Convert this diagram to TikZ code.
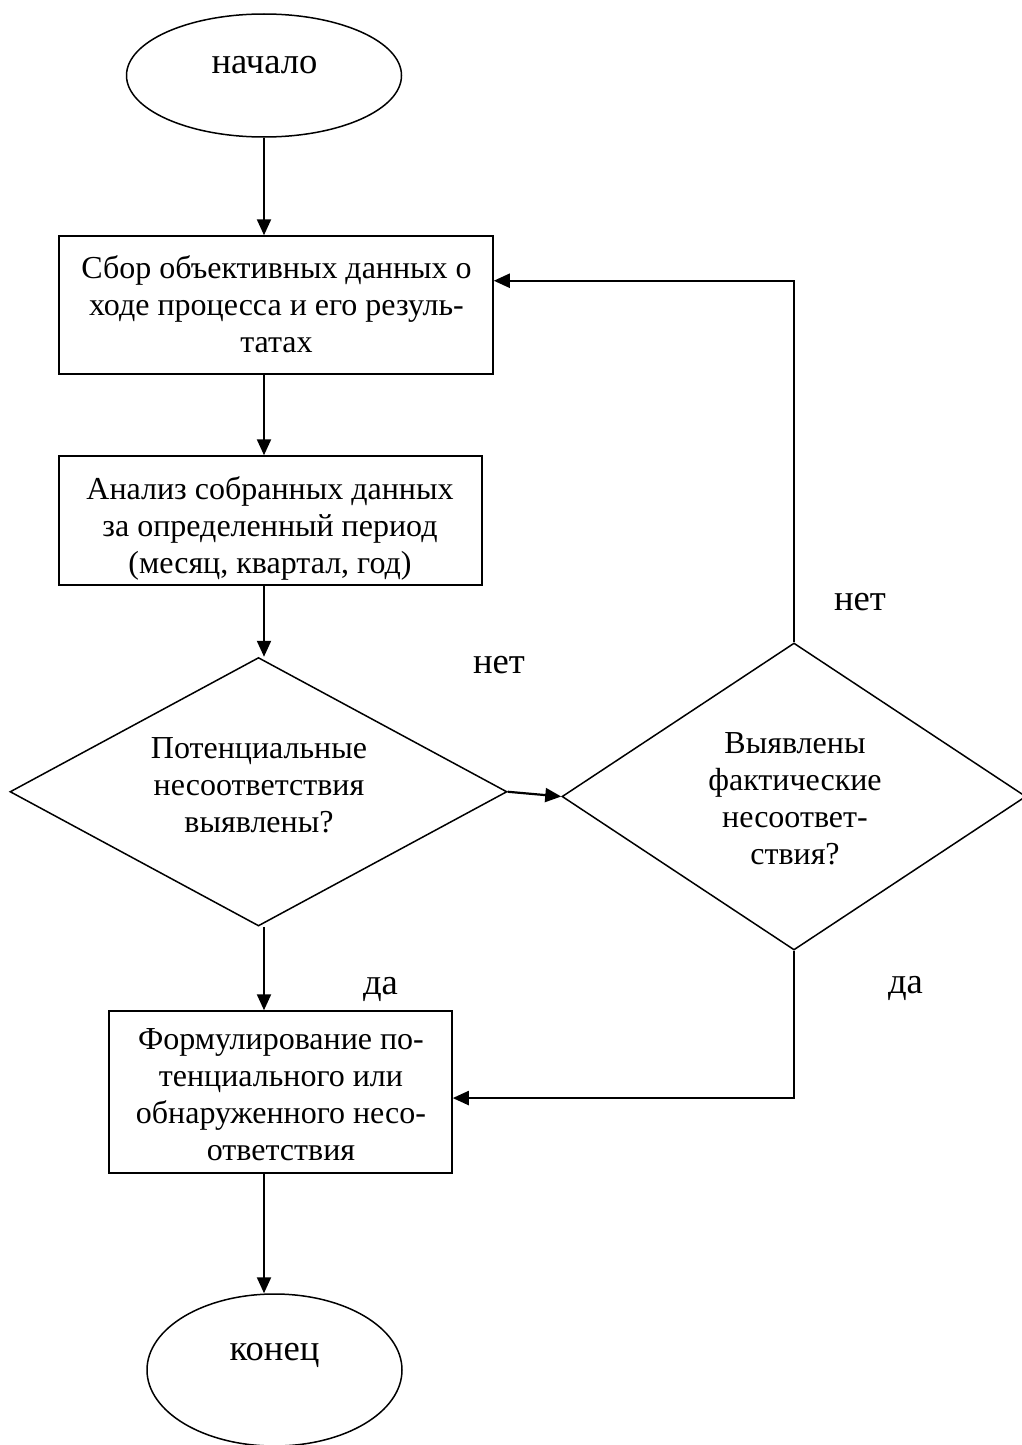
\documentclass[tikz,border=0pt]{standalone}
\usepackage{fontspec}
\setmainfont{Liberation Serif}
\usetikzlibrary{shapes.geometric,arrows.meta,calc}
\begin{document}
\begin{tikzpicture}[x=1pt,y=-1pt,
  font=\fontsize{32}{37}\selectfont,
  shp/.style={draw, line width=1.5pt, inner sep=0pt},
  boxs/.style={shp, rectangle},
  ell/.style={shp, ellipse},
  dia/.style={shp, diamond},
  txt/.style={align=center, inner sep=0pt, anchor=base},
  big/.style={txt, font=\fontsize{36.6}{42}\selectfont},
  ln/.style={line width=2.2pt},
  arr/.style={ln, -{Triangle[length=16pt,width=14pt]}}]
\useasboundingbox (0,0) rectangle (1022,1445);
% shapes
\node[ell, minimum width=275pt, minimum height=123pt] (start) at (264,75.5) {};
\node[boxs, minimum width=434pt, minimum height=138pt] (b1) at (276,305) {};
\node[boxs, minimum width=423pt, minimum height=129pt] (b2) at (270.5,520.5) {};
\node[dia, minimum width=497pt, minimum height=268.5pt] (d1) at (258.5,791.75) {};
\node[dia, minimum width=464pt, minimum height=307pt] (d2) at (794,796.5) {};
\node[boxs, minimum width=343pt, minimum height=162pt] (b3) at (280.5,1092) {};
\node[ell, minimum width=255pt, minimum height=152pt] (end) at (274.5,1370) {};
% texts (base anchor = baseline of the last line)
\node[big] (tstart) at (264.5,74) {начало};
\node[txt] (t1) at (276.5,352) {Сбор объективных данных о\\ходе процесса и его резуль-\\татах};
\node[txt] (t2) at (270,573) {Анализ собранных данных\\за определенный период\\(месяц, квартал, год)};
\node[txt] (td1) at (259,832) {Потенциальные\\несоответствия\\выявлены?};
\node[txt] (td2) at (795,864) {Выявлены\\фактические\\несоответ-\\ствия?};
\node[txt] (t3) at (281,1160) {Формулирование по-\\тенциального или\\обнаруженного несо-\\ответствия};
\node[big] (tend) at (274.5,1360) {конец};
% labels
\node[big] (n1) at (499,673) {нет};
\node[big] (n2) at (860,610) {нет};
\node[big] (y1) at (380.5,994) {да};
\node[big] (y2) at (905.5,993) {да};
% helper coordinates
\coordinate (c1) at ($(b1.north east)!0.326!(b1.south east)$);
\coordinate (c2) at ($(b3.north east)!0.537!(b3.south east)$);
% connectors
\draw[arr] (start.south) -- (start.south |- b1.north);
\draw[arr] (b1.south -| start.south) -- (b2.north -| start.south);
\draw[arr] (b2.south -| start.south) -- (d1.north -| start.south);
\draw[arr] (d1.east) -- (d2.west);
\draw[arr] (d2.north) |- (c1);
\draw[arr] (d1.south -| start.south) -- (b3.north -| start.south);
\draw[arr] (d2.south) |- (c2);
\draw[arr] (b3.south -| start.south) -- (end.north -| start.south);
\end{tikzpicture}
\end{document}
